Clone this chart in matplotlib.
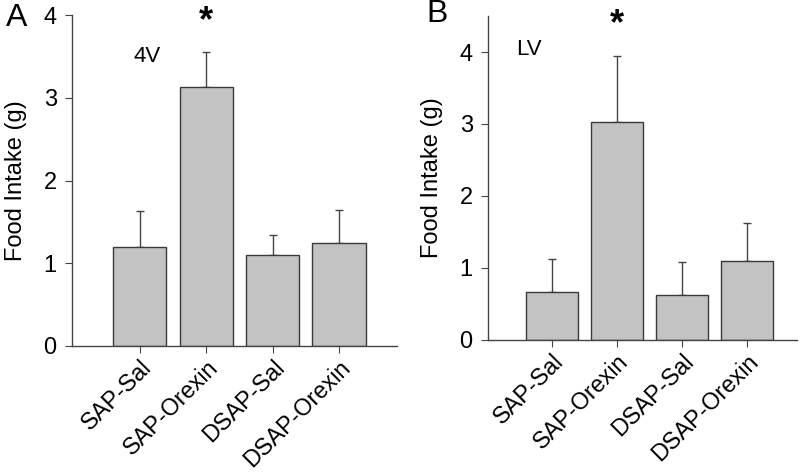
import matplotlib
matplotlib.use("Agg")
import matplotlib.pyplot as plt
import numpy as np

plt.rcParams['font.family'] = ['Liberation Sans', 'DejaVu Sans']

categories = ["SAP-Sal", "SAP-Orexin", "DSAP-Sal", "DSAP-Orexin"]
intake_4v = [1.20, 3.13, 1.10, 1.25]
sem_4v = [0.43, 0.42, 0.24, 0.39]
intake_lv = [0.67, 3.03, 0.62, 1.10]
sem_lv = [0.45, 0.91, 0.46, 0.53]

fig = plt.figure(figsize=(8, 4.72), dpi=100)
axA = fig.add_axes([0.09, 0.267, 0.406, 0.701])
axB = fig.add_axes([0.61, 0.280, 0.386, 0.686])

def draw(ax, vals, errs, ylim, xlim, yticks, region, region_xy, star_y, letter, letter_xy):
    x = np.arange(len(categories))
    ax.bar(x, vals, width=0.8, color='#c3c3c3', edgecolor='#3a3a3a', linewidth=1.0, zorder=2)
    ax.errorbar(x, vals, yerr=[np.zeros(len(errs)), errs], fmt='none', ecolor='#444444',
                elinewidth=1.0, capsize=3, capthick=1.0, zorder=1)
    ax.set_xlim(*xlim)
    ax.set_ylim(*ylim)
    ax.set_yticks(yticks)
    ax.set_xticks(x)
    ax.set_xticklabels(categories, rotation=45, ha='right', rotation_mode='anchor', fontsize=16.8)
    ax.tick_params(axis='y', labelsize=17, direction='out', length=5, color='#444444', pad=6)
    ax.tick_params(axis='x', direction='out', length=5, color='#444444', pad=2)
    for s in ['top', 'right']:
        ax.spines[s].set_visible(False)
    for s in ['left', 'bottom']:
        ax.spines[s].set_color('#444444')
        ax.spines[s].set_linewidth(1.0)
    ax.set_ylabel("Food Intake (g)", fontsize=17, labelpad=12)
    ax.text(region_xy[0], region_xy[1], region, fontsize=16, ha='left', va='center')
    ax.text(1, star_y, "*", fontsize=26, fontweight='bold', ha='center', va='center')
    fig.text(letter_xy[0], letter_xy[1], letter, fontsize=23, ha='left', va='center')

draw(axA, intake_4v, sem_4v, (0, 4), (-1.02, 3.87), [0, 1, 2, 3, 4], "4V", (-0.1, 3.5), 3.92, "A", (0.008, 0.962))
draw(axB, intake_lv, sem_lv, (0, 4.5), (-0.98, 3.77), [0, 1, 2, 3, 4], "LV", (-0.55, 4.03), 4.38, "B", (0.533, 0.970))

fig.savefig("out.png", dpi=100)
